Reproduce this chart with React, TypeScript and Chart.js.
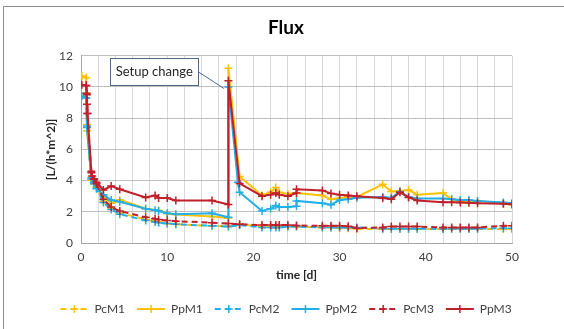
import React, { useEffect, useRef } from "react";
import { Chart, registerables } from "chart.js";

Chart.register(...registerables);

const FONT = 'Lato, "Open Sans", sans-serif';

// ---- data ----
const seriesNames = ["PcM1", "PpM1", "PcM2", "PpM2", "PcM3", "PpM3"];
const seriesColors = ["#FFC000", "#FFC000", "#22AEE6", "#22AEE6", "#C0202A", "#C0202A"];
const seriesDashed = [true, false, true, false, true, false];

const tPcM1 = [0.6, 0.7, 1.2, 1.5, 1.8, 2.6, 3.5, 4.5, 7.5, 8.6, 9, 10, 11, 15.2, 17.1, 18.4, 21, 22, 22.6, 23, 24, 25, 28, 29, 30, 31, 32, 35, 36, 37, 38, 39, 42, 43, 44, 45, 46, 49, 50];
const vPcM1 = [9.6, 7.2, 4.1, 3.8, 3.6, 2.7, 2.25, 1.95, 1.5, 1.4, 1.35, 1.25, 1.2, 1.1, 1.05, 1.2, 1.05, 1.05, 1.05, 1.05, 1.05, 1.05, 1.0, 1.0, 0.95, 0.95, 0.9, 0.9, 0.9, 0.9, 0.9, 0.9, 0.9, 0.9, 0.9, 0.9, 0.9, 0.9, 0.9];

const tPpM1 = [0.1, 0.6, 0.7, 1.2, 1.5, 1.8, 2.6, 3.5, 4.5, 7.5, 9, 10, 11, 15.2, 17.1, 17.1, 18.4, 21, 22, 22.6, 23, 24, 25, 28, 29, 30, 31, 32, 35, 36, 37, 38, 39, 42, 43, 44, 45, 46, 49, 50];
const vPpM1 = [10.7, 10.6, 7.6, 4.0, 3.9, 3.6, 3.05, 2.55, 2.78, 2.2, 2.1, 1.87, 1.83, 1.7, 1.6, 11.2, 4.27, 3.05, 3.25, 3.55, 3.25, 3.15, 3.2, 3.05, 2.8, 2.88, 2.95, 2.95, 3.76, 3.3, 3.33, 3.4, 3.1, 3.2, 2.8, 2.7, 2.7, 2.7, 2.55, 2.45];

const tPcM2 = [0.6, 0.7, 1.2, 1.5, 1.8, 2.6, 3.5, 4.5, 7.5, 8.6, 9, 10, 11, 15.2, 17.1, 18.4, 21, 22, 22.6, 23, 24, 25, 28, 29, 30, 31, 32, 35, 36, 37, 38, 39, 42, 43, 44, 45, 46, 49, 50];
const vPcM2 = [9.3, 7.5, 4.1, 3.8, 3.5, 2.6, 2.15, 1.85, 1.45, 1.35, 1.3, 1.25, 1.2, 1.1, 1.05, 1.15, 1.0, 1.0, 1.0, 1.0, 1.05, 1.05, 1.0, 1.0, 1.0, 1.0, 1.0, 0.92, 0.92, 0.92, 0.92, 0.92, 0.9, 0.92, 0.92, 0.92, 0.92, 0.95, 0.95];

const tPpM2 = [0.1, 0.6, 0.7, 1.2, 1.5, 1.8, 2.6, 3.5, 4.5, 7.5, 8.6, 9, 10, 11, 15.2, 17.1, 17.1, 18.2, 18.4, 21, 22, 22.6, 23, 24, 25, 25, 28, 29, 30, 31, 32, 35, 36, 37, 38, 39, 42, 43, 44, 45, 46, 49, 50];
const vPpM2 = [9.4, 9.3, 7.4, 4.2, 3.9, 3.5, 3.1, 2.75, 2.65, 2.2, 2.1, 2.05, 1.9, 1.85, 1.9, 1.65, 10.0, 3.9, 3.25, 2.05, 2.2, 2.4, 2.3, 2.3, 2.35, 2.7, 2.55, 2.45, 2.75, 2.8, 2.9, 2.95, 2.9, 3.3, 2.95, 2.85, 2.85, 2.8, 2.75, 2.75, 2.7, 2.6, 2.55];

const tPcM3 = [0.6, 0.7, 0.75, 1.2, 1.5, 1.8, 2.6, 3.5, 4.5, 7.5, 8.6, 9, 10, 11, 15.2, 17.1, 18.4, 21, 22, 22.6, 23, 24, 25, 28, 29, 30, 31, 32, 35, 36, 37, 38, 39, 42, 43, 44, 45, 46, 49, 50];
const vPcM3 = [10.1, 9.5, 8.3, 4.5, 4.1, 3.8, 2.8, 2.3, 2.05, 1.65, 1.55, 1.5, 1.45, 1.4, 1.3, 1.25, 1.2, 1.15, 1.15, 1.15, 1.15, 1.15, 1.12, 1.1, 1.1, 1.1, 1.08, 0.95, 1.0, 1.05, 1.05, 1.05, 1.05, 1.0, 1.0, 1.0, 1.0, 1.0, 1.1, 1.1];

const tPpM3 = [0.1, 0.6, 0.65, 0.7, 0.75, 1.2, 1.3, 1.5, 1.8, 2.6, 3.5, 4.5, 7.5, 8.6, 9, 10, 11, 15.2, 17.1, 17.1, 18.4, 21, 22, 22.6, 23, 24, 25, 25, 28, 29, 30, 31, 32, 35, 36, 37, 38, 39, 42, 43, 44, 45, 46, 49, 50];
const vPpM3 = [10.15, 10.1, 9.6, 8.9, 8.3, 4.6, 4.3, 4.1, 3.9, 3.4, 3.65, 3.45, 2.92, 3.05, 2.88, 2.88, 2.73, 2.73, 2.47, 10.4, 3.82, 3.0, 3.1, 3.2, 3.1, 3.0, 3.2, 3.45, 3.37, 3.18, 3.1, 3.05, 3.0, 2.88, 2.8, 3.25, 2.92, 2.72, 2.62, 2.62, 2.6, 2.58, 2.55, 2.52, 2.48];

const seriesTimes = [tPcM1, tPpM1, tPcM2, tPpM2, tPcM3, tPpM3];
const seriesValues = [vPcM1, vPpM1, vPcM2, vPpM2, vPcM3, vPpM3];

const xMin = 0, xMax = 50, xStep = 2, xLabelEvery = 10;
const yMin = 0, yMax = 12, yStep = 2;

const titleText = "Flux";
const xTitle = "time [d]";
const yTitle = "[L/(h*m^2)]";

const annotationText = "Setup change";
const annotationBox = { x0: 3.4, x1: 13.6, yTop: 11.85, yBottom: 10.1 };
const annotationTarget = { x: 16.6, y: 9.9 };

// ---- plugins ----
const annotationPlugin = {
  id: "setupAnnotation",
  afterDatasetsDraw(chart: any) {
    const { ctx, scales } = chart;
    const xs = scales.x, ys = scales.y;
    const l = xs.getPixelForValue(annotationBox.x0);
    const r = xs.getPixelForValue(annotationBox.x1);
    const t = ys.getPixelForValue(annotationBox.yTop);
    const b = ys.getPixelForValue(annotationBox.yBottom);
    const tx = xs.getPixelForValue(annotationTarget.x);
    const ty = ys.getPixelForValue(annotationTarget.y);
    ctx.save();
    ctx.strokeStyle = "#4E6A8C";
    ctx.lineWidth = 1;
    ctx.beginPath();
    ctx.moveTo(r, (t + b) / 2);
    ctx.lineTo(tx, ty);
    ctx.stroke();
    ctx.fillStyle = "#ffffff";
    ctx.fillRect(l, t, r - l, b - t);
    ctx.strokeRect(Math.round(l) + 0.5, Math.round(t) + 0.5, Math.round(r - l), Math.round(b - t));
    ctx.fillStyle = "#262626";
    ctx.font = `13px ${FONT}`;
    ctx.textAlign = "center";
    ctx.textBaseline = "middle";
    ctx.fillText(annotationText, (l + r) / 2, (t + b) / 2 + 0.5);
    ctx.restore();
  },
};

const legendCrossPlugin = {
  id: "legendCross",
  afterDraw(chart: any) {
    const legend = chart.legend;
    if (!legend || !legend.legendHitBoxes) return;
    const ctx = chart.ctx;
    const bw = legend.options.labels.boxWidth;
    legend.legendHitBoxes.forEach((hb: any, i: number) => {
      const cx = hb.left + bw / 2;
      const cy = hb.top + hb.height / 2;
      ctx.save();
      ctx.strokeStyle = seriesColors[i];
      ctx.lineWidth = 1.5;
      ctx.beginPath();
      ctx.moveTo(cx - 4, cy);
      ctx.lineTo(cx + 4, cy);
      ctx.moveTo(cx, cy - 4);
      ctx.lineTo(cx, cy + 4);
      ctx.stroke();
      ctx.restore();
    });
  },
};

export default function App() {
  const ref = useRef<HTMLCanvasElement | null>(null);

  useEffect(() => {
    if (!ref.current) return;
    const datasets = seriesNames.map((name, i) => ({
      label: name,
      data: seriesTimes[i].map((t, j) => ({ x: t, y: seriesValues[i][j] })),
      borderColor: seriesColors[i],
      backgroundColor: "rgba(0,0,0,0)",
      borderWidth: 2,
      borderDash: seriesDashed[i] ? [6, 4] : [],
      pointStyle: "cross",
      pointRadius: 4,
      pointBorderWidth: 1.5,
      pointBorderColor: seriesColors[i],
      pointBackgroundColor: seriesColors[i],
      tension: 0,
      order: seriesNames.length - i,
    }));

    const chart = new Chart(ref.current, {
      type: "line",
      data: { datasets },
      plugins: [annotationPlugin, legendCrossPlugin],
      options: {
        animation: false,
        responsive: false,
        maintainAspectRatio: false,
        devicePixelRatio: 1,
        layout: { padding: { left: 0, right: 0, top: 0, bottom: 4 } },
        plugins: {
          title: {
            display: true,
            text: titleText,
            color: "#000000",
            font: { family: FONT, size: 19, weight: "bold" },
            padding: { top: 8, bottom: 17 },
          },
          legend: {
            position: "bottom",
            labels: {
              boxWidth: 28,
              boxHeight: 0,
              padding: 12,
              color: "#404040",
              font: { family: FONT, size: 12 },
              sort: (a: any, b: any) => a.datasetIndex - b.datasetIndex,
            },
          },
          tooltip: { enabled: false },
        },
        scales: {
          x: {
            type: "linear",
            min: xMin,
            max: xMax,
            afterFit: (s: any) => { s.height = 48; },
            ticks: {
              stepSize: xStep,
              autoSkip: false,
              maxRotation: 0,
              color: "#404040",
              font: { family: FONT, size: 12 },
              padding: 7,
              callback: (v: any) => (Number(v) % xLabelEvery === 0 ? String(v) : ""),
            },
            grid: { color: "#D9D9D9", lineWidth: 1, drawTicks: false },
            border: { color: "#A6A6A6" },
            title: {
              display: true,
              text: xTitle,
              color: "#262626",
              font: { family: FONT, size: 12, weight: "bold" },
              padding: { top: 0, bottom: 9 },
            },
          },
          y: {
            type: "linear",
            min: yMin,
            max: yMax,
            afterFit: (s: any) => { s.width = 73; },
            ticks: {
              stepSize: yStep,
              color: "#404040",
              font: { family: FONT, size: 12 },
              padding: 8,
            },
            grid: { color: "#BFBFBF", lineWidth: 1, drawTicks: false },
            border: { color: "#A6A6A6" },
            title: {
              display: true,
              text: yTitle,
              color: "#262626",
              font: { family: FONT, size: 12, weight: "bold" },
              padding: { top: 36, bottom: 0 },
            },
          },
          yRightSpace: {
            type: "linear",
            position: "right",
            min: yMin,
            max: yMax,
            afterFit: (s: any) => { s.width = 52; },
            ticks: { display: false },
            grid: { display: false },
            border: { display: false },
          },
        },
      },
    } as any);
    return () => chart.destroy();
  }, []);

  return (
    <div style={{ position: "fixed", left: 0, top: 0, width: 564, height: 329, background: "#fff", overflow: "hidden" }}>
      <div style={{ position: "absolute", left: 3, top: 6, width: 600, height: 400, border: "1px solid #8C8C8C", boxSizing: "border-box" }} />
      <canvas ref={ref} width={556} height={321} style={{ position: "absolute", left: 8, top: 8, width: 556, height: 321 }} />
    </div>
  );
}
